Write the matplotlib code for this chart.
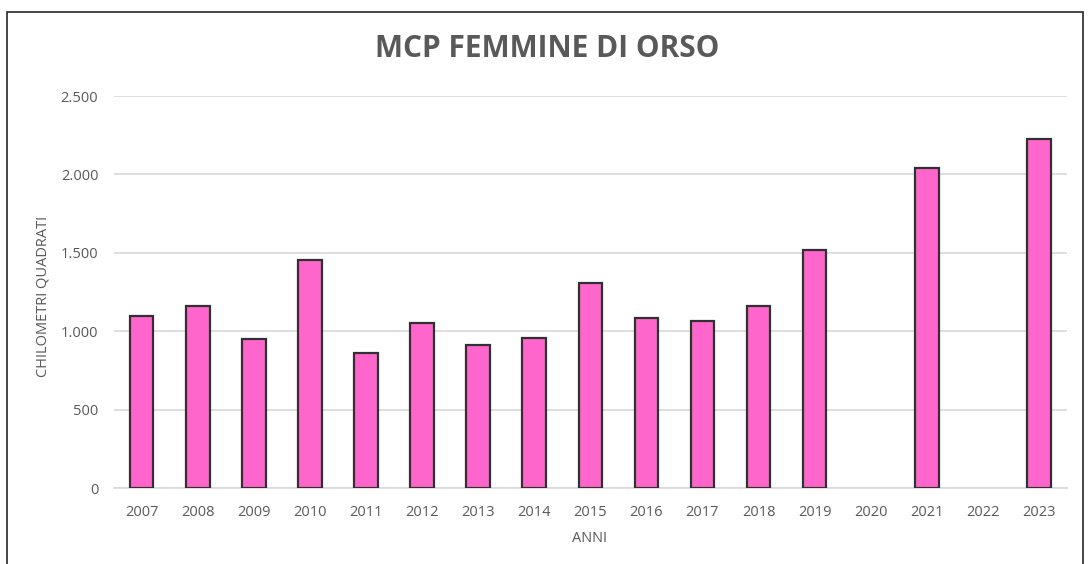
import matplotlib
matplotlib.use("Agg")
import matplotlib.pyplot as plt
from matplotlib.patches import Rectangle
from matplotlib.ticker import FuncFormatter

nan = float("nan")
years = ["2007", "2008", "2009", "2010", "2011", "2012", "2013", "2014", "2015",
         "2016", "2017", "2018", "2019", "2020", "2021", "2022", "2023"]
mcp_km2 = [1100, 1158, 950, 1455, 863, 1054, 912, 958, 1305,
           1086, 1065, 1160, 1518, nan, 2043, nan, 2226]
y_ticks = [0, 500, 1000, 1500, 2000, 2500]

plt.rcParams['font.family'] = ['Open Sans', 'DejaVu Sans']
W, H = 1090, 564
fig = plt.figure(figsize=(W / 100, H / 100), dpi=100)
ax = fig.add_axes([113.6 / W, 1 - 488 / H, (1067 - 113.6) / W, (488 - 96) / H])

x = list(range(len(years)))
ax.bar(x, mcp_km2, width=0.42, color="#FF66CC", edgecolor="#303030",
       linewidth=1.6, zorder=3)

ax.set_xlim(-0.5, len(years) - 0.5)
ax.set_ylim(0, 2500)
ax.set_yticks(y_ticks)
ax.yaxis.set_major_formatter(FuncFormatter(lambda v, p: f"{int(v):,}".replace(",", ".")))
ax.set_xticks(x)
ax.set_xticklabels(years)
ax.grid(axis="y", color="#D9D9D9", linewidth=1.2, zorder=0)
for s in ["top", "right", "left"]:
    ax.spines[s].set_visible(False)
ax.spines["bottom"].set_color("#D9D9D9")
ax.spines["bottom"].set_linewidth(1.2)
ax.tick_params(axis="both", length=0, colors="#595959", labelsize=10.5)
ax.tick_params(axis="x", pad=12.5)
ax.tick_params(axis="y", pad=11)

fig.text(590 / W, 1 - 539 / H, "ANNI", ha="center", va="center",
         color="#595959", fontsize=10.5)
fig.text(43 / W, 1 - 296 / H, "CHILOMETRI QUADRATI", ha="center", va="center",
         rotation=90, color="#595959", fontsize=10.5)

fig.text(547.5 / W, 1 - 49 / H, "MCP FEMMINE DI ORSO", ha="center", va="center",
         fontsize=21.5, fontweight="bold", color="#595959")

fig.patches.append(Rectangle((7 / W, -0.01), (1083 - 7) / W, 1 - 12 / H + 0.01,
                             transform=fig.transFigure, fill=False,
                             edgecolor="#262626", linewidth=1.2))

fig.savefig("out.png", dpi=100, facecolor="white")
